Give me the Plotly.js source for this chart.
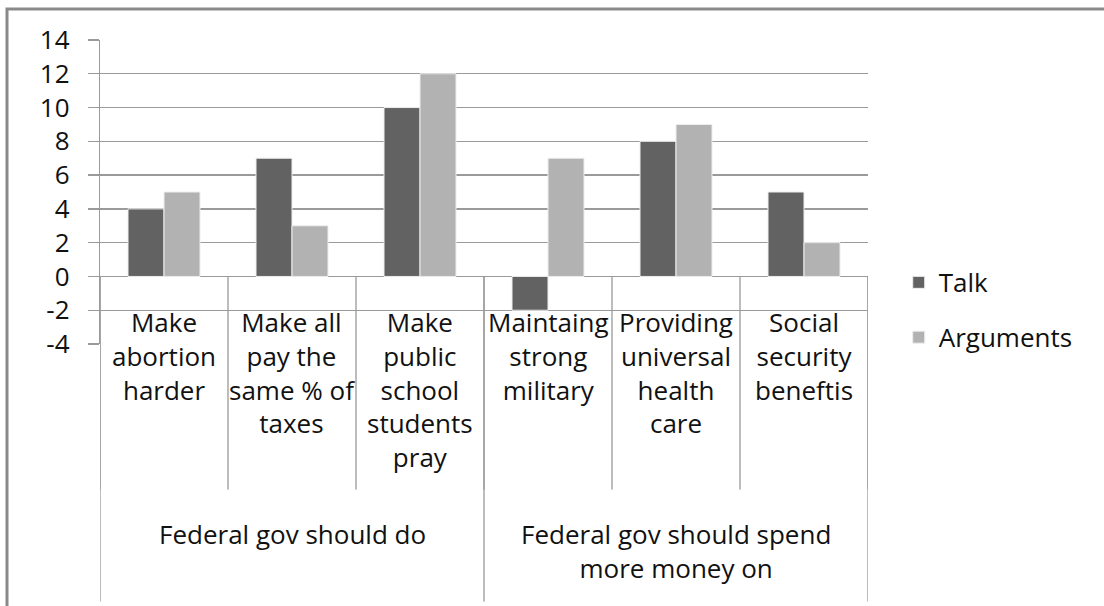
<!DOCTYPE html>
<html>
<head>
<meta charset="utf-8">
<script src="https://cdn.plot.ly/plotly-3.0.1.min.js"></script>
<style>html,body{margin:0;padding:0;background:#fff;}#chart{width:1104px;height:606px;}</style>
</head>
<body>
<div id="chart"></div>
<script>
const categories = [
  'Make<br>abortion<br>harder',
  'Make all<br>pay the<br>same % of<br>taxes',
  'Make<br>public<br>school<br>students<br>pray',
  'Maintaing<br>strong<br>military',
  'Providing<br>universal<br>health<br>care',
  'Social<br>security<br>beneftis'
];
const groups = ['Federal gov should do', 'Federal gov should spend<br>more money on'];
const groupSizes = [3, 3];
const talk = [4, 7, 10, -2, 8, 5];
const argumentsVals = [5, 3, 12, 7, 9, 2];
const yTicks = [14, 12, 10, 8, 6, 4, 2, 0, -2, -4];

const yMin = -4, yMax = 14;
const zeroPaper = (0 - yMin) / (yMax - yMin);
const FONT = 'Open Sans, sans-serif';
const LINE = '#9a9a9a';

const traces = [
  {type: 'bar', name: 'Talk', x: categories, y: talk, legendgroup: 'a',
   marker: {color: '#626262', line: {color: '#eeeeee', width: 1}}, hoverinfo: 'y'},
  {type: 'bar', name: 'Arguments', x: categories, y: argumentsVals, legendgroup: 'b',
   marker: {color: '#b2b2b2', line: {color: '#eeeeee', width: 1}}, hoverinfo: 'y'}
];

const annotations = [];
categories.forEach((c, i) => {
  annotations.push({x: i, xref: 'x', y: zeroPaper, yref: 'paper', yshift: -26,
    text: c, showarrow: false, xanchor: 'center', yanchor: 'top', align: 'center',
    font: {family: FONT, size: 26, color: '#111111'}});
});
let start = 0;
groups.forEach((g, gi) => {
  const center = start + (groupSizes[gi] - 1) / 2;
  annotations.push({x: center, xref: 'x', y: zeroPaper, yref: 'paper', yshift: -238,
    text: g, showarrow: false, xanchor: 'center', yanchor: 'top', align: 'center',
    font: {family: FONT, size: 26, color: '#111111'}});
  start += groupSizes[gi];
});

const shapes = [];
// inner separators
for (let i = 0; i <= categories.length; i++) {
  shapes.push({type: 'line', xref: 'x', yref: 'paper', x0: i - 0.5, x1: i - 0.5,
    ysizemode: 'pixel', yanchor: zeroPaper, y0: 0, y1: -213,
    line: {color: LINE, width: 1.3}});
}
// outer separators
let b = 0;
const bounds = [0];
groupSizes.forEach(s => { b += s; bounds.push(b); });
bounds.forEach(v => {
  shapes.push({type: 'line', xref: 'x', yref: 'paper', x0: v - 0.5, x1: v - 0.5,
    ysizemode: 'pixel', yanchor: zeroPaper, y0: 0, y1: -325,
    line: {color: LINE, width: 1.3}});
});
// outer chart border
shapes.push({type: 'rect', xref: 'paper', yref: 'paper',
  xsizemode: 'pixel', xanchor: 0, x0: -93, x1: 1100,
  ysizemode: 'pixel', yanchor: 1, y0: 31, y1: -700,
  line: {color: '#8a8a8a', width: 3}, layer: 'below'});

const layout = {
  width: 1104, height: 606,
  margin: {l: 100, r: 236, t: 40, b: 262},
  paper_bgcolor: '#ffffff', plot_bgcolor: '#ffffff',
  font: {family: FONT, size: 26, color: '#111111'},
  barmode: 'group', bargap: 0.4375, bargroupgap: 0,
  xaxis: {type: 'category', showticklabels: false, ticks: '', showgrid: false,
          showline: false, zeroline: false, range: [-0.5, categories.length - 0.5], fixedrange: true},
  yaxis: {range: [yMin, yMax], tickvals: yTicks, ticktext: yTicks.map(String),
          showgrid: true, gridcolor: LINE, gridwidth: 1.3,
          zeroline: true, zerolinecolor: LINE, zerolinewidth: 1.3,
          showline: true, linecolor: LINE, linewidth: 1.3,
          ticks: 'outside', ticklen: 11, tickcolor: LINE, tickwidth: 1.3,
          ticklabelstandoff: 13,
          tickfont: {family: FONT, size: 26, color: '#111111'}, fixedrange: true},
  showlegend: true,
  legend: {x: 1.04, xanchor: 'left', y: 0.112, yanchor: 'middle',
           traceorder: 'grouped', tracegroupgap: 18,
           font: {family: FONT, size: 26, color: '#111111'}, bgcolor: 'rgba(0,0,0,0)'},
  annotations: annotations,
  shapes: shapes
};

Plotly.newPlot('chart', traces, layout, {displayModeBar: false, staticPlot: true});
</script>
</body>
</html>
